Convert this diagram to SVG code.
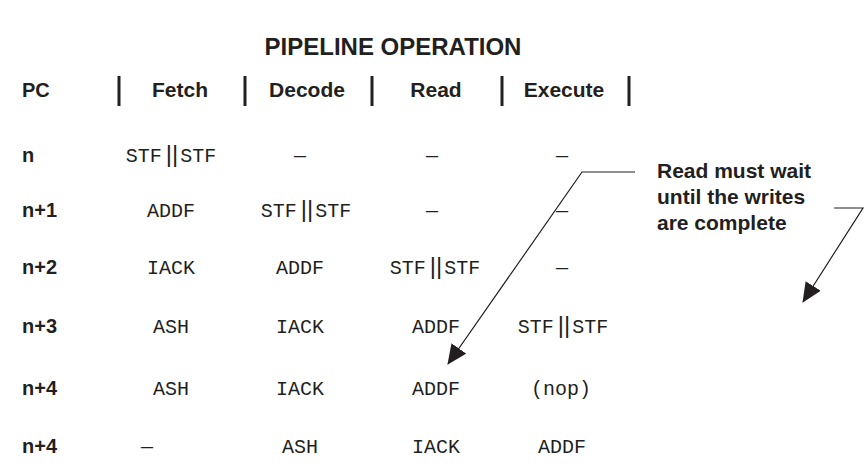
<svg xmlns="http://www.w3.org/2000/svg" width="866" height="467" viewBox="0 0 866 467">
<defs>
<style>
.b{font-family:"Liberation Sans",Arial,sans-serif;font-weight:bold;fill:#231f20}
.m{font-family:"Liberation Mono","Courier New",monospace;font-size:20px;fill:#231f20;text-anchor:middle}
.p{font-family:"Liberation Sans",Arial,sans-serif;font-size:24px;letter-spacing:0px}
.hd{font-size:21px;text-anchor:middle}
.rl{font-size:20px}
.co{font-size:21px}
.bar{stroke:#231f20;stroke-width:3}
.ld{fill:none;stroke:#231f20;stroke-width:1.2}
</style>
<marker id="ah" markerUnits="userSpaceOnUse" markerWidth="20" markerHeight="18" viewBox="0 0 20 18" refX="19" refY="9" orient="auto">
<path d="M0,0 L20,9 L0,18 z" fill="#231f20"/>
</marker>
</defs>
<rect width="866" height="467" fill="#fff"/>
<text class="b" x="393" y="55" font-size="24" text-anchor="middle">PIPELINE OPERATION</text>
<g id="header">
<text class="b rl" x="22" y="97">PC</text>
<line class="bar" x1="119" y1="76" x2="119" y2="106"/>
<text class="b hd" x="180" y="97">Fetch</text>
<line class="bar" x1="245" y1="76" x2="245" y2="106"/>
<text class="b hd" x="307" y="97">Decode</text>
<line class="bar" x1="372" y1="76" x2="372" y2="106"/>
<text class="b hd" x="436" y="97">Read</text>
<line class="bar" x1="502" y1="76" x2="502" y2="106"/>
<text class="b hd" x="564" y="97">Execute</text>
<line class="bar" x1="629" y1="76" x2="629" y2="106"/>
</g>
<g id="row-n">
<text class="b rl" x="22" y="162">n</text>
<text class="m" x="171" y="162">STF<tspan class="p" dx="4">||</tspan><tspan dx="2">STF</tspan></text>
<text class="m" x="300" y="162">—</text>
<text class="m" x="432" y="162">—</text>
<text class="m" x="562" y="162">—</text>
</g>
<g id="row-n1">
<text class="b rl" x="22" y="217">n+1</text>
<text class="m" x="171" y="217">ADDF</text>
<text class="m" x="306" y="217">STF<tspan class="p" dx="4">||</tspan><tspan dx="2">STF</tspan></text>
<text class="m" x="432" y="217">—</text>
<text class="m" x="562" y="217">—</text>
</g>
<g id="row-n2">
<text class="b rl" x="22" y="274">n+2</text>
<text class="m" x="171" y="274">IACK</text>
<text class="m" x="300" y="274">ADDF</text>
<text class="m" x="435" y="274">STF<tspan class="p" dx="4">||</tspan><tspan dx="2">STF</tspan></text>
<text class="m" x="562" y="274">—</text>
</g>
<g id="row-n3">
<text class="b rl" x="22" y="333">n+3</text>
<text class="m" x="171" y="333">ASH</text>
<text class="m" x="300" y="333">IACK</text>
<text class="m" x="436" y="333">ADDF</text>
<text class="m" x="563" y="333">STF<tspan class="p" dx="4">||</tspan><tspan dx="2">STF</tspan></text>
</g>
<g id="row-n4a">
<text class="b rl" x="22" y="395">n+4</text>
<text class="m" x="171" y="395">ASH</text>
<text class="m" x="300" y="395">IACK</text>
<text class="m" x="436" y="395">ADDF</text>
<text class="m" x="561" y="395">(nop)</text>
</g>
<g id="row-n4b">
<text class="b rl" x="22" y="453">n+4</text>
<text class="m" x="147" y="453">—</text>
<text class="m" x="300" y="453">ASH</text>
<text class="m" x="436" y="453">IACK</text>
<text class="m" x="562" y="453">ADDF</text>
</g>
<g id="callout">
<text class="b co" x="657" y="178">Read must wait</text>
<text class="b co" x="657" y="204">until the writes</text>
<text class="b co" x="657" y="230">are complete</text>
</g>
<g id="connectors">
<polyline class="ld" points="635,172 582,172 448,364" marker-end="url(#ah)"/>
<polyline class="ld" points="834,208 863,208 803,302" marker-end="url(#ah)"/>
</g>
</svg>
